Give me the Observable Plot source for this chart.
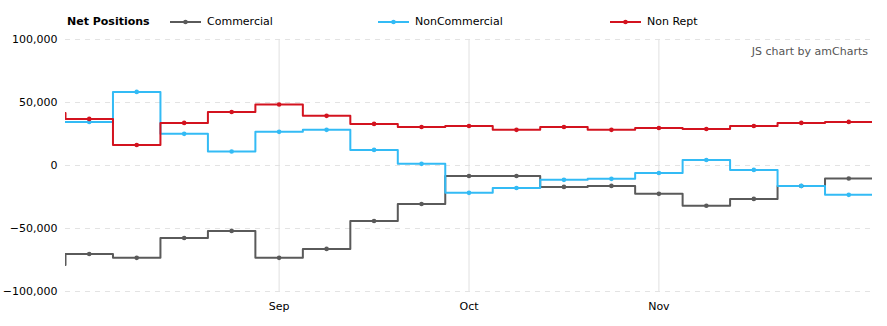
<!DOCTYPE html>
<html>
<head>
<meta charset="utf-8">
<script src="https://cdn.jsdelivr.net/npm/d3@7"></script>
<script src="https://cdn.jsdelivr.net/npm/@observablehq/plot@0.6"></script>
<style>
  html, body { margin: 0; padding: 0; background: #fff; }
  #wrap { position: relative; width: 887px; height: 326px; font-family: "DejaVu Sans", Verdana, sans-serif; }
  #legend { position: absolute; left: 0; top: 0; width: 887px; height: 30px; font-size: 11px; color: #000; }
  #legend .item { position: absolute; top: 15px; display: flex; align-items: center; }
  #legend .title { position: absolute; top: 15px; left: 67px; font-weight: bold; }
  #legend svg { margin-right: 6px; }
  #credit { position: absolute; right: 19px; top: 45px; font-size: 11px; color: #555; }
  #chart { position: absolute; left: 0; top: 0; }
</style>
</head>
<body>
<div id="wrap">
  <div id="chart"></div>
  <div id="legend"></div>
  <div id="credit">JS chart by amCharts</div>
</div>
<script>
// Weekly report dates (Tuesdays)
const dates = ["2016-08-09","2016-08-16","2016-08-23","2016-08-30","2016-09-06","2016-09-13","2016-09-20","2016-09-27","2016-10-04","2016-10-11","2016-10-18","2016-10-25","2016-11-01","2016-11-08","2016-11-15","2016-11-22","2016-11-29"];
const seriesNames = ["Commercial", "NonCommercial", "Non Rept"];
const seriesColors = ["#5a5a5a", "#33bbf5", "#d3131f"];
// value of the week before the first visible one
const previousValues = [-79000, 34600, 41700];
const commercial = [-70200, -73300, -57500, -51900, -73300, -66200, -44000, -30500, -8300, -8300, -17000, -16200, -22500, -32000, -26500, -16300, -10300];
const nonCommercial = [34600, 58400, 25100, 11100, 26700, 28300, 12400, 1300, -21700, -17800, -11400, -10600, -5900, 4400, -3500, -16200, -23300];
const nonRept = [37000, 16300, 33800, 42500, 48400, 39400, 33000, 30600, 31400, 28300, 30600, 28300, 29800, 29000, 31400, 33800, 34600];
const yTicks = [-100000, -50000, 0, 50000, 100000];
const monthLabels = ["Sep", "Oct", "Nov"];

const values = [commercial, nonCommercial, nonRept];
const parse = d3.utcParse("%Y-%m-%d");
const dt = dates.map(parse);

// tick at first week of each month label
const monthFmt = d3.utcFormat("%b");
const xTicks = [];
dt.forEach((d, i) => {
  if (i > 0 && d.getUTCMonth() !== dt[i - 1].getUTCMonth() && monthLabels.includes(monthFmt(d))) xTicks.push(i);
});

const points = [];
const lineRows = [];
values.forEach((arr, s) => {
  lineRows.push({series: seriesNames[s], i: -1, v: previousValues[s]});
  arr.forEach((v, i) => {
    points.push({series: seriesNames[s], i, v});
    lineRows.push({series: seriesNames[s], i, v});
  });
  lineRows.push({series: seriesNames[s], i: arr.length, v: arr[arr.length - 1]});
});

const color = {domain: seriesNames, range: seriesColors};

const chart = Plot.plot({
  width: 887,
  height: 326,
  marginTop: 39,
  marginBottom: 35,
  marginLeft: 65,
  marginRight: 15,
  style: {fontFamily: "DejaVu Sans, Verdana, sans-serif", fontSize: "11px", color: "#000", background: "#fff"},
  x: {domain: [-0.5, dates.length - 0.5]},
  y: {domain: [-100000, 100000]},
  color,
  marks: [
    Plot.gridY(yTicks, {stroke: "#e3e3e3", strokeOpacity: 1, strokeDasharray: "5,5"}),
    Plot.gridX(xTicks, {stroke: "#e0e0e0", strokeOpacity: 1}),
    Plot.axisY(yTicks, {tickSize: 0, tickPadding: 8, tickFormat: d3.format(","), label: null, fill: "#000"}),
    Plot.axisX(xTicks, {tickSize: 0, tickPadding: 11, tickFormat: i => monthFmt(dt[i]), label: null, fill: "#000"}),
    Plot.line(lineRows, {x: "i", y: "v", z: "series", stroke: "series", curve: "step", strokeWidth: 2, clip: true}),
    Plot.dot(points, {x: "i", y: "v", fill: "series", r: 2.3})
  ]
});
document.getElementById("chart").appendChild(chart);

// legend
const legend = document.getElementById("legend");
const title = document.createElement("div");
title.className = "title";
title.textContent = "Net Positions";
legend.appendChild(title);
const legendX = [170, 378, 610];
seriesNames.forEach((name, s) => {
  const item = document.createElement("div");
  item.className = "item";
  item.style.left = legendX[s] + "px";
  item.innerHTML = `<svg width="31" height="8"><line x1="0" x2="31" y1="4" y2="4" stroke="${seriesColors[s]}" stroke-width="2"/><circle cx="15.5" cy="4" r="2.3" fill="${seriesColors[s]}"/></svg><span>${name}</span>`;
  legend.appendChild(item);
});
</script>
</body>
</html>
